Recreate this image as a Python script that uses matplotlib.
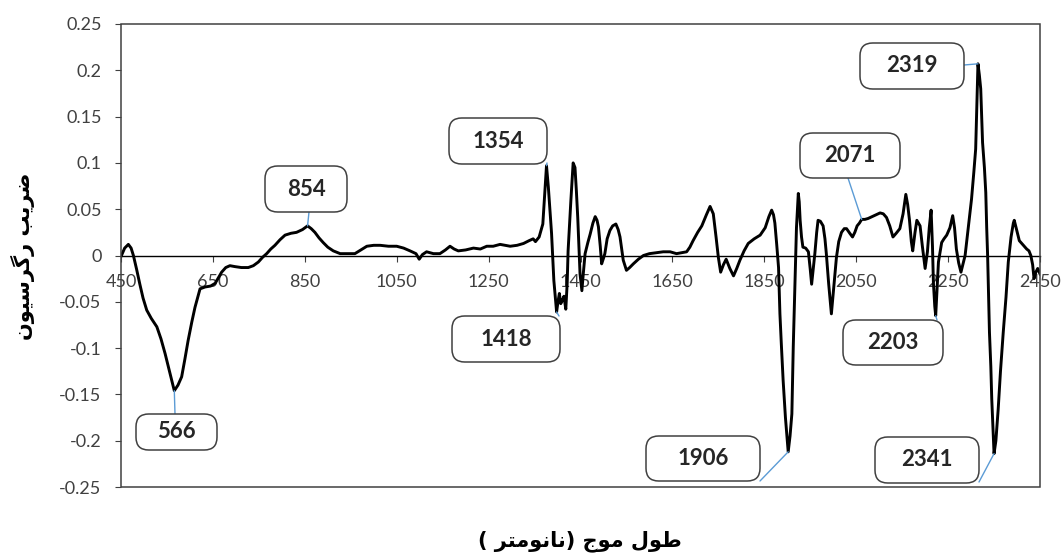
"""طیف ضریب رگرسیون بر حسب طول موج — بازسازی نمودار"""
import matplotlib
matplotlib.use("Agg")
import matplotlib.pyplot as plt
import numpy as np
from matplotlib.patches import FancyBboxPatch, Rectangle, ConnectionPatch

# ---- داده‌ها (خوانده‌شده از تصویر) ----
wavelength = [
    451, 458, 466, 472, 477, 484, 491, 498, 506, 516, 528, 537, 546, 556, 566, 574, 582, 589,
    596, 604, 611, 617, 622, 633, 645, 655, 662, 669, 678, 687, 698, 712, 727, 738, 749, 758,
    767, 776, 785, 796, 807, 820, 832, 845, 856, 864, 872, 881, 890, 900, 912, 927, 945, 959,
    972, 985, 1000, 1014, 1032, 1050, 1065, 1079, 1092, 1099, 1106, 1115, 1130, 1144, 1156,
    1166, 1175, 1184, 1200, 1217, 1232, 1246, 1260, 1275, 1286, 1297, 1312, 1326, 1338, 1347,
    1352, 1360, 1368, 1372, 1376, 1380, 1384, 1387, 1392, 1398, 1401, 1404, 1407, 1410, 1414,
    1418, 1421, 1423, 1429, 1434, 1438, 1441, 1444, 1449, 1453, 1456, 1460, 1466, 1471, 1477,
    1482, 1486, 1489, 1493, 1496, 1500, 1503, 1508, 1514, 1520, 1527, 1532, 1536, 1540, 1543,
    1550, 1557, 1565, 1576, 1587, 1600, 1615, 1630, 1645, 1659, 1670, 1681, 1688, 1695, 1705,
    1714, 1724, 1732, 1739, 1745, 1750, 1755, 1761, 1767, 1775, 1783, 1790, 1797, 1806, 1815,
    1828, 1841, 1852, 1860, 1866, 1870, 1873, 1877, 1881, 1884, 1887, 1891, 1896, 1902, 1906,
    1910, 1913, 1917, 1920, 1924, 1926, 1928, 1931, 1934, 1940, 1946, 1950, 1953, 1957, 1960,
    1964, 1967, 1972, 1978, 1982, 1985, 1990, 1996, 2001, 2007, 2012, 2018, 2024, 2029, 2036,
    2042, 2047, 2052, 2057, 2062, 2069, 2076, 2089, 2102, 2109, 2116, 2123, 2130, 2137, 2145,
    2152, 2158, 2162, 2166, 2170, 2173, 2178, 2182, 2189, 2194, 2200, 2205, 2209, 2213, 2216,
    2218, 2221, 2223, 2226, 2229, 2236, 2241, 2247, 2254, 2260, 2264, 2268, 2273, 2278, 2283,
    2287, 2294, 2301, 2306, 2310, 2313, 2315, 2318, 2321, 2323, 2325, 2329, 2332, 2334, 2336,
    2340, 2343, 2345, 2348, 2350, 2354, 2359, 2364, 2370, 2376, 2381, 2387, 2392, 2394, 2399,
    2405, 2412, 2421, 2426, 2430, 2434, 2437, 2441, 2445, 2450,
]
coef = [
    0.000, 0.008, 0.012, 0.008, 0.000, -0.015, -0.031, -0.046, -0.059, -0.068, -0.077, -0.090,
    -0.106, -0.126, -0.146, -0.140, -0.131, -0.112, -0.092, -0.072, -0.056, -0.045, -0.036,
    -0.034, -0.033, -0.030, -0.024, -0.018, -0.013, -0.011, -0.012, -0.013, -0.013, -0.011,
    -0.007, -0.002, 0.002, 0.007, 0.011, 0.017, 0.022, 0.024, 0.025, 0.028, 0.032, 0.029,
    0.025, 0.019, 0.014, 0.009, 0.005, 0.002, 0.002, 0.002, 0.006, 0.010, 0.011, 0.011, 0.010,
    0.010, 0.008, 0.005, 0.002, -0.004, 0.001, 0.004, 0.002, 0.002, 0.006, 0.010, 0.007, 0.005,
    0.006, 0.008, 0.007, 0.010, 0.010, 0.012, 0.011, 0.010, 0.011, 0.013, 0.016, 0.018, 0.015,
    0.020, 0.034, 0.065, 0.097, 0.074, 0.045, 0.024, -0.027, -0.061, -0.050, -0.041, -0.052,
    -0.049, -0.044, -0.058, -0.030, 0.005, 0.059, 0.100, 0.095, 0.070, 0.041, -0.020, -0.038,
    -0.020, 0.002, 0.014, 0.023, 0.035, 0.042, 0.038, 0.031, 0.010, -0.009, -0.003, 0.002,
    0.018, 0.027, 0.032, 0.034, 0.028, 0.020, 0.006, -0.005, -0.016, -0.013, -0.009, -0.004,
    0.000, 0.002, 0.003, 0.004, 0.004, 0.002, 0.003, 0.004, 0.009, 0.016, 0.025, 0.032, 0.044,
    0.053, 0.045, 0.020, -0.002, -0.018, -0.010, -0.004, -0.014, -0.022, -0.014, -0.005, 0.005,
    0.013, 0.018, 0.022, 0.030, 0.042, 0.049, 0.044, 0.035, 0.012, -0.013, -0.063, -0.095,
    -0.135, -0.175, -0.212, -0.195, -0.171, -0.099, -0.027, 0.030, 0.067, 0.058, 0.038, 0.020,
    0.009, 0.008, 0.004, -0.015, -0.031, -0.012, 0.002, 0.025, 0.038, 0.037, 0.032, 0.018,
    0.002, -0.030, -0.063, -0.035, -0.002, 0.015, 0.025, 0.029, 0.029, 0.024, 0.020, 0.025,
    0.032, 0.035, 0.039, 0.039, 0.040, 0.043, 0.046, 0.045, 0.041, 0.032, 0.020, 0.024, 0.029,
    0.045, 0.066, 0.055, 0.038, 0.015, 0.005, 0.025, 0.038, 0.032, 0.010, -0.014, 0.004, 0.030,
    0.049, 0.010, -0.029, -0.055, -0.065, -0.035, -0.007, 0.014, 0.018, 0.022, 0.030, 0.043,
    0.030, 0.007, -0.008, -0.018, -0.008, 0.000, 0.030, 0.061, 0.090, 0.115, 0.170, 0.207,
    0.195, 0.180, 0.150, 0.122, 0.095, 0.068, 0.030, 0.000, -0.083, -0.120, -0.155, -0.190,
    -0.214, -0.200, -0.166, -0.125, -0.083, -0.045, -0.007, 0.020, 0.035, 0.038, 0.028, 0.016,
    0.012, 0.007, 0.005, 0.000, -0.010, -0.025, -0.018, -0.014, -0.020,
]

x_ticks = [450, 650, 850, 1050, 1250, 1450, 1650, 1850, 2050, 2250, 2450]
y_ticks = [-0.25, -0.2, -0.15, -0.1, -0.05, 0, 0.05, 0.1, 0.15, 0.2, 0.25]

# برچسب قله‌ها و طول موجی که به آن اشاره می‌کنند
peak_labels = ["566", "854", "1354", "1418", "1906", "2071", "2203", "2319", "2341"]
peak_at = [566, 856, 1376, 1398, 1902, 2062, 2223, 2315, 2350]

x_title = "طول موج (نانومتر )"
y_title = "ضریب رگرسیون"

# ---- چیدمان (پیکسل، مبدأ بالا-چپ) ----
W, H = 1061, 556
# جعبه‌ی هر برچسب: (x0, y0, x1, y1) و نقطه‌ی اتصال خط راهنما
boxes = [
    (136, 414, 217, 450), (265, 166, 347, 212), (449, 118, 547, 164),
    (452, 316, 560, 362), (646, 436, 760, 481), (800, 133, 900, 178),
    (843, 320, 943, 365), (860, 43, 964, 89), (875, 437, 979, 483),
]
anchors = [
    (175, 414), (309, 212), (547, 163), (559, 316), (760, 481),
    (848, 178), (937, 320), (964, 65), (979, 482),
]


# ---- شکل‌دهی ساده‌ی حروف فارسی (matplotlib حروف را به هم نمی‌چسباند) ----
FORMS = {  # جدا، پایانی، آغازی، میانی
    "ا": ("\uFE8D", "\uFE8E", None, None),
    "ب": ("\uFE8F", "\uFE90", "\uFE91", "\uFE92"),
    "ت": ("\uFE95", "\uFE96", "\uFE97", "\uFE98"),
    "ج": ("\uFE9D", "\uFE9E", "\uFE9F", "\uFEA0"),
    "ر": ("\uFEAD", "\uFEAE", None, None),
    "س": ("\uFEB1", "\uFEB2", "\uFEB3", "\uFEB4"),
    "ض": ("\uFEBD", "\uFEBE", "\uFEBF", "\uFEC0"),
    "ط": ("\uFEC1", "\uFEC2", "\uFEC3", "\uFEC4"),
    "گ": ("\uFB92", "\uFB93", "\uFB94", "\uFB95"),
    "ل": ("\uFEDD", "\uFEDE", "\uFEDF", "\uFEE0"),
    "م": ("\uFEE1", "\uFEE2", "\uFEE3", "\uFEE4"),
    "ن": ("\uFEE5", "\uFEE6", "\uFEE7", "\uFEE8"),
    "و": ("\uFEED", "\uFEEE", None, None),
    "ی": ("\uFBFC", "\uFBFD", "\uFBFE", "\uFBFF"),
}
MIRROR = {"(": ")", ")": "("}


def rtl(text):
    out = []
    for i, ch in enumerate(text):
        if ch not in FORMS:
            out.append(ch)
            continue
        prev_join = i > 0 and text[i - 1] in FORMS and FORMS[text[i - 1]][2] is not None
        next_join = FORMS[ch][2] is not None and i + 1 < len(text) and text[i + 1] in FORMS
        idx = 3 if prev_join and next_join else 1 if prev_join else 2 if next_join else 0
        out.append(FORMS[ch][idx])
    return "".join(MIRROR.get(c, c) for c in reversed(out))


def fig_xy(px, py):
    return px / W, 1 - py / H


fig = plt.figure(figsize=(W / 100, H / 100), dpi=100)
left, top, right, bottom = 121, 24, 1040, 487
ax = fig.add_axes([left / W, 1 - bottom / H, (right - left) / W, (bottom - top) / H])

ink = "#404040"
ax.plot(wavelength, coef, color="black", lw=2.1, solid_joinstyle="round", zorder=3)

ax.set_xlim(450, 2450)
ax.set_ylim(-0.25, 0.25)
ax.set_xticks(x_ticks)
ax.set_yticks(y_ticks)
ax.set_xticklabels([str(t) for t in x_ticks])
ax.set_yticklabels([f"{t:g}" for t in y_ticks])

for s in ("top", "right", "left"):
    ax.spines[s].set_visible(False)
ax.spines["bottom"].set_position(("data", 0))
ax.spines["bottom"].set_color("black")
ax.spines["bottom"].set_linewidth(1.0)
ax.add_patch(Rectangle((0, 0), 1, 1, transform=ax.transAxes, fill=False,
                       ec=ink, lw=1.1, clip_on=False, zorder=4))

ax.tick_params(axis="both", direction="out", length=4, width=0.8, color=ink,
               labelcolor=ink, labelsize=13)
ax.tick_params(axis="x", pad=9)
ax.tick_params(axis="y", pad=10)
for lab in ax.get_xticklabels() + ax.get_yticklabels():
    lab.set_family("Lato")

# ---- برچسب قله‌ها ----
for text, wl, (x0, y0, x1, y1), (ax_px, ay_px) in zip(peak_labels, peak_at, boxes, anchors):
    yv = float(np.interp(wl, wavelength, coef))
    fx0, fy1 = fig_xy(x0, y1)
    fx1, fy0 = fig_xy(x1, y0)
    fig.patches.append(FancyBboxPatch(
        (fx0, fy1), fx1 - fx0, fy0 - fy1, transform=fig.transFigure,
        boxstyle="round,pad=0,rounding_size=0.012", mutation_aspect=W / H,
        fc="white", ec=ink, lw=1.1, zorder=5))
    cx, cy = fig_xy((x0 + x1) / 2, (y0 + y1) / 2)
    fig.text(cx, cy, text, ha="center", va="center", fontsize=16,
             fontweight="bold", family="Lato", color="#262626", zorder=6)
    con = ConnectionPatch(xyA=fig_xy(ax_px, ay_px), coordsA=fig.transFigure,
                          xyB=(wl, yv), coordsB=ax.transData,
                          color="#5B9BD5", lw=1.0, zorder=2)
    fig.add_artist(con)

# ---- عنوان محورها ----
fig.text(*fig_xy(580, 541), rtl(x_title), ha="center", va="center",
         fontsize=15, fontweight="bold", family="DejaVu Sans", color="black")
fig.text(*fig_xy(23, 256), rtl(y_title), ha="center", va="center", rotation=90,
         fontsize=15, fontweight="bold", family="DejaVu Sans", color="black")

fig.savefig("out.png", dpi=100)
